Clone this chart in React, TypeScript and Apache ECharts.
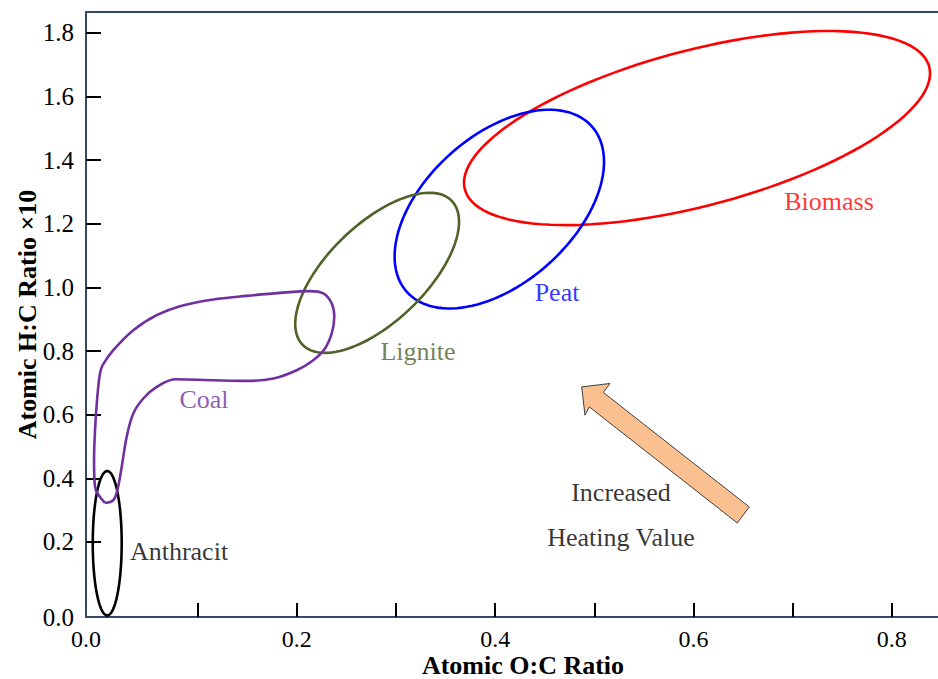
import React, { useEffect, useRef } from "react";
import * as echarts from "echarts";

// Axis extents (the original labels its corner as 0.0)
const X_MIN = -0.0126;
const X_MAX = 0.8466;
const Y_MIN = -0.0358;
const Y_MAX = 1.8657;

const xTickValues = [0.1, 0.2, 0.3, 0.4, 0.5, 0.6, 0.7, 0.8];
const xLabelValues = [X_MIN, 0.2, 0.4, 0.6, 0.8];
const yTickValues = [0.2, 0.4, 0.6, 0.8, 1.0, 1.2, 1.4, 1.6, 1.8];
const yLabelValues = [Y_MIN, 0.2, 0.4, 0.6, 0.8, 1.0, 1.2, 1.4, 1.6, 1.8];

// Ellipse regions: centre, half-width, half-height, y-offset of rightmost point
const ellipseNames = ["Biomass", "Peat", "Lignite", "Anthracit"];
const ellipseCX = [0.6036, 0.4042, 0.281, 0.0088];
const ellipseCY = [1.5009, 1.2462, 1.0459, 0.196];
const ellipseRX = [0.235, 0.1056, 0.0826, 0.0146];
const ellipseRY = [0.305, 0.3123, 0.2516, 0.227];
const ellipseTilt = [0.172, 0.1487, 0.1604, 0.0];
const ellipseColors = ["#ff0000", "#0000ff", "#4f6228", "#000000"];

// Coal region outline (closed)
const coalX = [
  0.0066, -0.0035, -0.0045, -0.0035, -0.0012, 0.0015, 0.0042, 0.0149, 0.0351,
  0.0587, 0.0822, 0.1158, 0.1495, 0.183, 0.2133, 0.2267, 0.2352, 0.2378, 0.2352,
  0.2284, 0.2166, 0.1999, 0.1763, 0.1495, 0.1158, 0.0771, 0.0587, 0.0452,
  0.0351, 0.0284, 0.0234, 0.019, 0.0149, 0.0066,
];
const coalY = [
  0.3226, 0.373, 0.4569, 0.5513, 0.656, 0.7296, 0.7557, 0.8028, 0.8657, 0.9129,
  0.9412, 0.9623, 0.9736, 0.983, 0.9884, 0.9811, 0.9497, 0.9075, 0.8553, 0.8082,
  0.7714, 0.7399, 0.7138, 0.7063, 0.7085, 0.7116, 0.6874, 0.6509, 0.6038,
  0.5302, 0.4358, 0.3626, 0.3311, 0.3226,
];
const coalColor = "#7030a0";

// "Increased heating value" arrow outline
const arrowX = [0.4873, 0.5158, 0.5091, 0.6563, 0.6442, 0.495, 0.4906];
const arrowY = [0.6874, 0.6981, 0.6698, 0.3101, 0.2597, 0.6245, 0.5984];

// Text annotations
const labelTexts = ["Biomass", "Peat", "Lignite", "Coal", "Anthracit", "Increased", "Heating Value"];
const labelX = [0.7367, 0.4624, 0.3222, 0.1064, 0.0812, 0.5269, 0.5269];
const labelY = [1.2714, 0.9852, 0.7997, 0.6487, 0.1707, 0.3563, 0.2148];
const labelColors = ["#ff0000", "#0000ff", "#4f6228", "#7030a0", "#000000", "#000000", "#000000"];

const FONT = "'Liberation Serif', 'Times New Roman', serif";
const AXIS_COLOR = "#34486a";

const fmt = (v: number) => (Math.abs(v) < 0.05 ? "0.0" : v.toFixed(1));

export default function App() {
  const ref = useRef<HTMLDivElement>(null);

  useEffect(() => {
    if (!ref.current) return;
    const chart = echarts.init(ref.current, null, { renderer: "svg" });

    const ellipseData = ellipseNames.map((n, i) => ({
      name: n,
      value: [ellipseCX[i], ellipseCY[i], ellipseRX[i], ellipseRY[i], ellipseTilt[i]],
    }));

    const option: any = {
      animation: false,
      backgroundColor: "#ffffff",
      grid: { left: 86, right: 0, top: 12, bottom: 62, containLabel: false, outerBoundsMode: "none" },
      xAxis: [
        {
          type: "value",
          min: X_MIN,
          max: X_MAX,
          name: "Atomic O:C Ratio",
          nameLocation: "middle",
          nameGap: 38,
          nameMoveOverlap: false,
          nameTextStyle: {
            fontFamily: FONT,
            fontWeight: "bold",
            fontSize: 26,
            lineHeight: 20,
            color: "#000",
            padding: [0, 0, 0, 22],
          },
          axisLine: { show: true, onZero: false, lineStyle: { color: AXIS_COLOR, width: 2 } },
          axisTick: {
            show: true,
            inside: true,
            length: 14,
            customValues: xTickValues,
            lineStyle: { color: "#000", width: 2 },
          },
          axisLabel: {
            customValues: xLabelValues,
            formatter: fmt,
            fontFamily: FONT,
            fontSize: 24,
            lineHeight: 20,
            color: "#000",
            margin: 12,
          },
          splitLine: { show: false },
        },
        {
          type: "value",
          position: "top",
          min: X_MIN,
          max: X_MAX,
          axisLine: { show: true, onZero: false, lineStyle: { color: AXIS_COLOR, width: 2 } },
          axisTick: { show: false },
          axisLabel: { show: false },
          splitLine: { show: false },
        },
      ],
      yAxis: {
        type: "value",
        min: Y_MIN,
        max: Y_MAX,
        name: "Atomic H:C Ratio \u00d710",
        nameLocation: "middle",
        nameGap: 46,
        nameMoveOverlap: false,
        nameTextStyle: { fontFamily: FONT, fontWeight: "bold", fontSize: 26, color: "#000" },
        axisLine: { show: true, onZero: false, lineStyle: { color: AXIS_COLOR, width: 2 } },
        axisTick: {
          show: true,
          inside: true,
          length: 15,
          customValues: yTickValues,
          lineStyle: { color: "#000", width: 2 },
        },
        axisLabel: {
          customValues: yLabelValues,
          formatter: fmt,
          fontFamily: FONT,
          fontSize: 25,
          color: "#000",
          margin: 12,
        },
        splitLine: { show: false },
      },
      series: [
        {
          type: "custom",
          name: "regions",
          encode: { x: 0, y: 1 },
          data: ellipseData,
          renderItem: (params: any, api: any) => {
            const cx = api.value(0);
            const cy = api.value(1);
            const rx = api.value(2);
            const ry = api.value(3);
            const d = api.value(4);
            const b = Math.sqrt(Math.max(ry * ry - d * d, 0));
            const pts: number[][] = [];
            const N = 120;
            for (let k = 0; k < N; k++) {
              const t = (2 * Math.PI * k) / N;
              pts.push(api.coord([cx + rx * Math.cos(t), cy + d * Math.cos(t) + b * Math.sin(t)]));
            }
            return {
              type: "polygon",
              shape: { points: pts },
              style: { fill: "none", stroke: ellipseColors[params.dataIndex], lineWidth: 2.6 },
            };
          },
          silent: true,
          z: 3,
        },
        {
          type: "line",
          name: "Coal",
          data: coalX.map((x, i) => [x, coalY[i]]),
          smooth: 0.35,
          symbol: "none",
          lineStyle: { color: coalColor, width: 2.6 },
          silent: true,
          z: 3,
        },
        {
          type: "custom",
          name: "arrow",
          encode: { x: 0, y: 1 },
          data: [[arrowX[0], arrowY[0]]],
          renderItem: (params: any, api: any) => {
            const pts = arrowX.map((x, i) => api.coord([x, arrowY[i]]));
            return {
              type: "polygon",
              shape: { points: pts },
              style: { fill: "#fac08f", stroke: "#404040", lineWidth: 1 },
            };
          },
          silent: true,
          z: 2,
        },
        {
          type: "scatter",
          name: "labels",
          symbol: "circle",
          symbolSize: 1,
          itemStyle: { color: "transparent" },
          data: labelTexts.map((t, i) => ({
            name: t,
            value: [labelX[i], labelY[i]],
            label: { color: labelColors[i] },
          })),
          label: {
            show: true,
            position: "inside",
            formatter: (p: any) => p.name,
            fontFamily: FONT,
            fontSize: 26,
            align: "center",
            verticalAlign: "middle",
            textBorderWidth: 0,
          },
          silent: true,
          z: 4,
        },
      ],
    };

    chart.setOption(option);
    return () => chart.dispose();
  }, []);

  return (
    <div
      ref={ref}
      style={{ position: "fixed", left: 0, top: 0, width: 938, height: 679, background: "#fff" }}
    />
  );
}
